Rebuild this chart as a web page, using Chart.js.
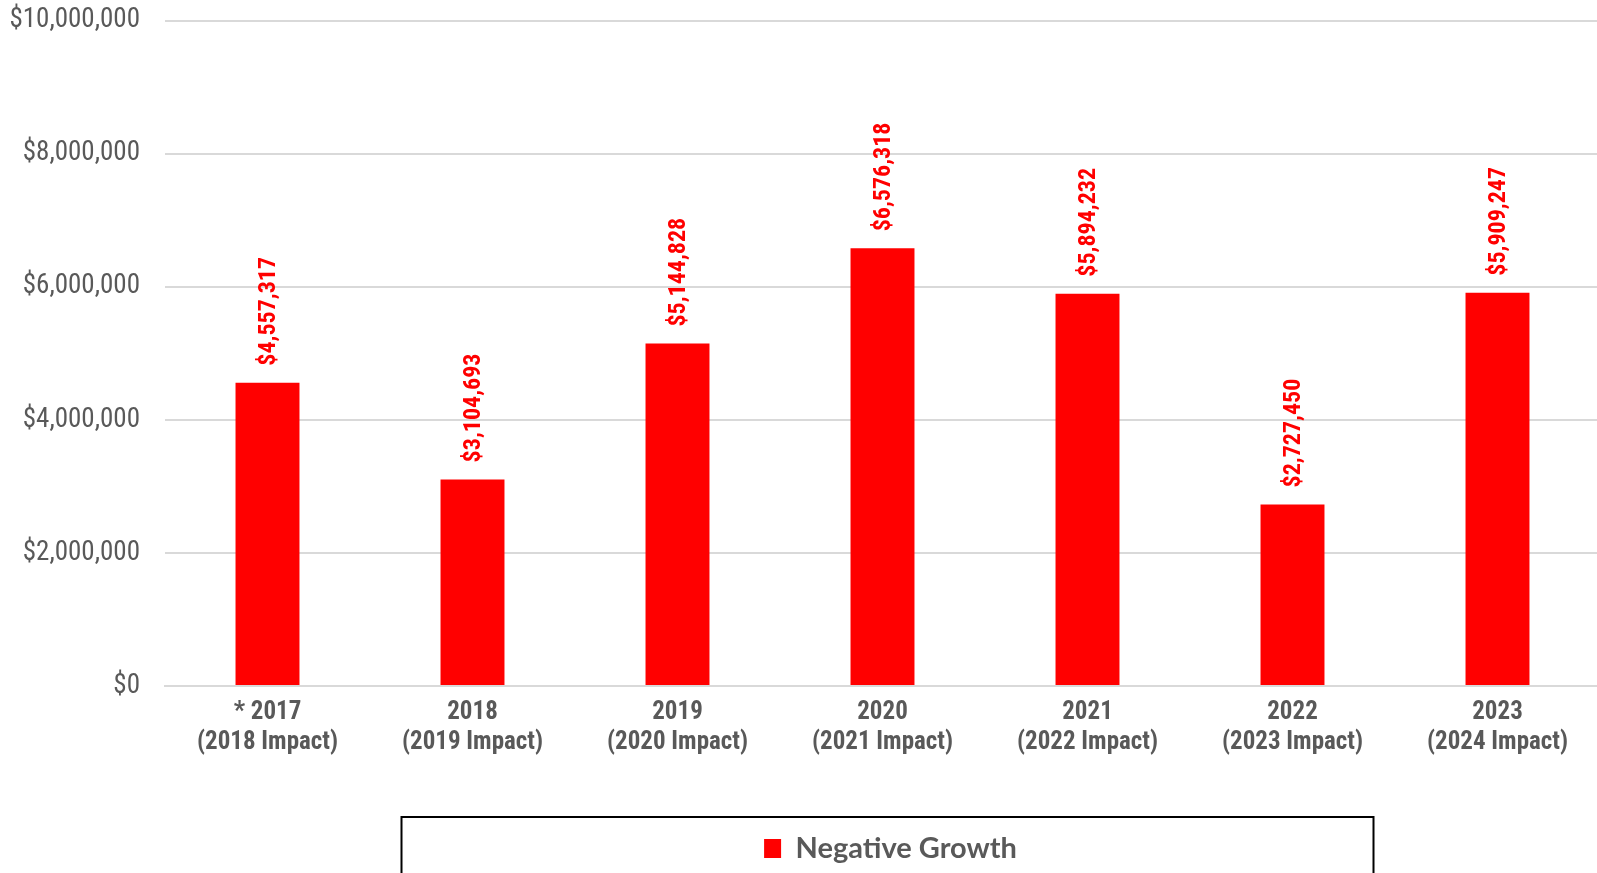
<!DOCTYPE html>
<html>
<head>
<meta charset="utf-8">
<script src="https://cdn.jsdelivr.net/npm/chart.js@4.4.0/dist/chart.umd.min.js"></script>
<style>
  html, body { margin: 0; padding: 0; background: #fff; overflow: hidden; }
  #wrap { position: relative; width: 1600px; height: 873px; }
</style>
</head>
<body>
<div id="wrap"><canvas id="myChart"></canvas></div>
<script>
const years = [
    ['* 2017', '(2018 Impact)'],
    ['2018', '(2019 Impact)'],
    ['2019', '(2020 Impact)'],
    ['2020', '(2021 Impact)'],
    ['2021', '(2022 Impact)'],
    ['2022', '(2023 Impact)'],
    ['2023', '(2024 Impact)']
];
const negativeGrowth = [4557317, 3104693, 5144828, 6576318, 5894232, 2727450, 5909247];
const seriesName = 'Negative Growth';

const narrow = '"Liberation Sans Narrow", "Arial Narrow", "Roboto Condensed", sans-serif';
const money = v => '$' + Number(v).toLocaleString('en-US');

// red rotated value labels over each bar
const barLabels = {
    id: 'barLabels',
    afterDatasetsDraw(chart) {
        const ctx = chart.ctx;
        const meta = chart.getDatasetMeta(0);
        ctx.save();
        ctx.fillStyle = '#ff0000';
        ctx.font = 'bold 24px ' + narrow;
        ctx.textAlign = 'left';
        ctx.textBaseline = 'middle';
        meta.data.forEach((bar, i) => {
            ctx.save();
            ctx.translate(bar.x + 1, bar.y - 17);
            ctx.rotate(-Math.PI / 2);
            ctx.fillText(money(negativeGrowth[i]), 0, 0);
            ctx.restore();
        });
        ctx.restore();
    }
};

// center the legend under the plot and put a frame round it
const legendFrame = {
    id: 'legendFrame',
    afterLayout(chart) {
        const lg = chart.legend;
        lg.left = chart.chartArea.left + 8;
        lg.right = chart.chartArea.right + 8;
        lg.width = lg.right - lg.left;
    },
    afterDraw(chart) {
        const lg = chart.legend;
        const cx = (chart.chartArea.left + chart.chartArea.right) / 2 + 5;
        const ctx = chart.ctx;
        ctx.save();
        ctx.strokeStyle = '#000';
        ctx.lineWidth = 2;
        ctx.strokeRect(cx - 486, lg.top, 972, lg.height + 30);
        ctx.restore();
    }
};

new Chart(document.getElementById('myChart'), {
    type: 'bar',
    data: {
        labels: years,
        datasets: [{
            label: seriesName,
            data: negativeGrowth,
            backgroundColor: '#ff0000',
            barPercentage: 0.312,
            categoryPercentage: 1
        }]
    },
    options: {
        responsive: true,
        maintainAspectRatio: false,
        animation: false,
        layout: { padding: 0 },
        plugins: {
            tooltip: { enabled: false },
            legend: {
                position: 'bottom',
                labels: {
                    boxWidth: 17,
                    boxHeight: 19,
                    padding: 17,
                    color: '#595959',
                    font: { family: 'Lato, "Open Sans", sans-serif', size: 29, weight: 'bold' }
                }
            }
        },
        scales: {
            x: {
                grid: { display: false, drawTicks: false },
                border: { display: true, color: '#d9d9d9', width: 2 },
                ticks: {
                    color: '#595959',
                    padding: 12,
                    maxRotation: 0,
                    autoSkip: false,
                    font: { family: narrow, size: 25, weight: 'bold', lineHeight: 1.2 }
                },
                afterFit(scale) { scale.height = 131; }
            },
            y: {
                min: 0,
                max: 10000000,
                border: { display: false },
                grid: { color: '#d9d9d9', lineWidth: 2, drawTicks: false },
                ticks: {
                    stepSize: 2000000,
                    color: '#595959',
                    padding: 25,
                    font: { family: narrow, size: 27 },
                    callback: v => money(v)
                },
                afterFit(scale) {
                    scale.width = 165;
                    scale.paddingTop = 20.5;
                    scale.paddingBottom = 0;
                }
            }
        }
    },
    plugins: [barLabels, legendFrame]
});
</script>
</body>
</html>
